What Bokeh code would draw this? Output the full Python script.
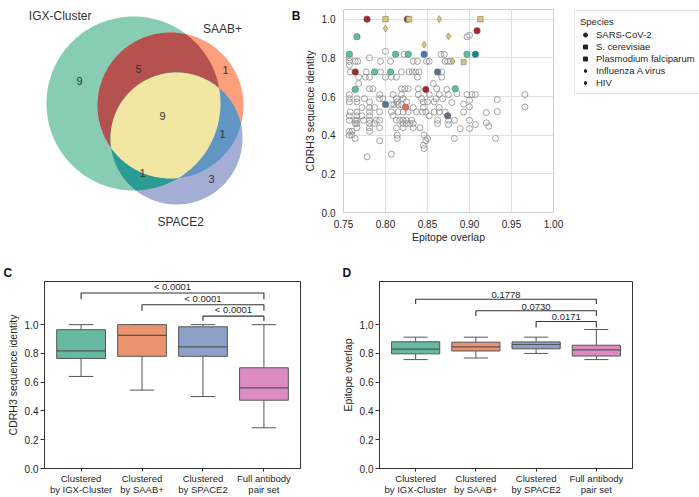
import numpy as np
from bokeh.plotting import figure
from bokeh.models import (Range1d, FixedTicker, PrintfTickFormatter, Legend,
                          LegendItem, ColumnDataSource, Title)
from bokeh.layouts import row, column
from bokeh.embed import file_html
from bokeh.resources import INLINE

FONT = "Liberation Sans"
TXT = "#262626"

# ---------------- Panel A: Venn counts ----------------
venn_set_names = ["IGX-Cluster", "SAAB+", "SPACE2"]
venn_region_names = ["IGX only", "SAAB+ only", "IGX & SAAB+", "SPACE2 only",
                     "IGX & SPACE2", "SAAB+ & SPACE2", "all three"]
venn_counts = [9, 1, 5, 3, 1, 1, 9]

# ---------------- Panel B: scatter ----------------
gray_x = [0.800,
          0.822, 0.866, 0.870,
          0.757, 0.781,
          0.757, 0.764, 0.767, 0.794, 0.806, 0.833, 0.838, 0.849, 0.852, 0.871, 0.874, 0.877,
          0.757,
          0.897, 0.900,
          0.758, 0.777, 0.794, 0.819, 0.828, 0.832, 0.836, 0.840, 0.867,
          0.768, 0.776, 0.781, 0.800, 0.807, 0.813, 0.838, 0.867,
          0.768, 0.857,
          0.781, 0.785, 0.819, 0.823, 0.827, 0.839, 0.861, 0.873,
          0.757, 0.793, 0.809, 0.819, 0.839, 0.852, 0.864, 0.875, 0.885, 0.897, 0.903, 0.907, 0.966,
          0.757, 0.766, 0.775, 0.793, 0.797, 0.813, 0.821, 0.843, 0.860, 0.868, 0.900, 0.933,
          0.757, 0.766, 0.781, 0.814, 0.825, 0.845, 0.850, 0.858, 0.879,
          0.807, 0.810, 0.815, 0.819, 0.893,
          0.772, 0.781, 0.787, 0.833, 0.845, 0.864, 0.900, 0.966,
          0.758, 0.766, 0.781, 0.793, 0.807, 0.815, 0.821, 0.827, 0.837, 0.844, 0.848, 0.858, 0.864,
          0.871, 0.893, 0.920, 0.933,
          0.757, 0.766, 0.772, 0.781, 0.809, 0.852,
          0.757, 0.764, 0.766, 0.774, 0.781, 0.789, 0.793, 0.813, 0.817, 0.821, 0.825, 0.831, 0.862,
          0.875, 0.882, 0.900,
          0.764, 0.766, 0.781, 0.787, 0.821, 0.825, 0.829, 0.833, 0.862, 0.875, 0.907, 0.920,
          0.766, 0.781, 0.793, 0.813, 0.821, 0.833, 0.841, 0.889, 0.900, 0.923,
          0.757, 0.760, 0.781,
          0.757, 0.760, 0.814, 0.846,
          0.764, 0.814, 0.850, 0.882, 0.931,
          0.793, 0.848,
          0.845, 0.846, 0.807, 0.778]
gray_y = [0.833,
          0.818, 0.818, 0.818,
          0.800, 0.800,
          0.782, 0.782, 0.782, 0.782, 0.782, 0.782, 0.782, 0.782, 0.782, 0.782, 0.782, 0.782,
          0.762,
          0.909, 0.917,
          0.727, 0.727, 0.727, 0.727, 0.727, 0.727, 0.727, 0.727, 0.727,
          0.700, 0.700, 0.700, 0.700, 0.700, 0.700, 0.700, 0.700,
          0.667, 0.667,
          0.640, 0.640, 0.640, 0.640, 0.640, 0.640, 0.640, 0.636,
          0.610, 0.610, 0.610, 0.610, 0.610, 0.610, 0.610, 0.610, 0.615, 0.610, 0.610, 0.610, 0.610,
          0.589, 0.589, 0.589, 0.589, 0.589, 0.589, 0.589, 0.589, 0.589, 0.589, 0.580, 0.584,
          0.572, 0.572, 0.572, 0.572, 0.572, 0.572, 0.572, 0.572, 0.569,
          0.558, 0.558, 0.558, 0.558, 0.560,
          0.543, 0.543, 0.543, 0.543, 0.543, 0.543, 0.546, 0.546,
          0.520, 0.520, 0.520, 0.520, 0.520, 0.520, 0.520, 0.520, 0.520, 0.520, 0.520, 0.520, 0.520,
          0.520, 0.520, 0.517, 0.522,
          0.500, 0.500, 0.500, 0.500, 0.500, 0.500,
          0.477, 0.477, 0.477, 0.477, 0.477, 0.477, 0.477, 0.477, 0.477, 0.477, 0.477, 0.477, 0.477,
          0.477, 0.477, 0.477,
          0.460, 0.460, 0.460, 0.460, 0.460, 0.460, 0.460, 0.460, 0.460, 0.455, 0.455, 0.464,
          0.438, 0.438, 0.438, 0.438, 0.438, 0.438, 0.438, 0.434, 0.434, 0.446,
          0.420, 0.420, 0.420,
          0.400, 0.400, 0.400, 0.400,
          0.383, 0.383, 0.383, 0.383, 0.383,
          0.371, 0.371,
          0.348, 0.331, 0.302, 0.288]

hit_x = [0.757, 0.766, 0.764, 0.787, 0.806, 0.812, 0.827, 0.883, 0.897,
         0.778, 0.826, 0.764, 0.848, 0.909,
         0.800, 0.800, 0.828, 0.864, 0.846, 0.875, 0.880, 0.893, 0.913,
         0.846, 0.907,
         0.800, 0.862, 0.874,
         0.824]
hit_y = [0.818, 0.909, 0.636, 0.727, 0.727, 0.818, 0.818, 0.640, 0.818,
         1.000, 1.000, 0.727, 0.636, 0.940,
         1.000, 0.952, 1.000, 1.000, 0.868, 0.911, 0.782, 0.778, 1.000,
         0.818, 0.818,
         0.558, 0.727, 0.500,
         0.545]
hit_group = ["IGX"] * 9 + ["IGX+SAAB"] * 5 + ["ALL"] * 9 + ["SAAB+SPACE2", "IGX+SPACE2"] + \
            ["SPACE2"] * 3 + ["SAAB"]
hit_species = ["SARS-CoV-2"] * 14 + ["S. cerevisiae", "HIV", "S. cerevisiae", "Influenza A virus",
               "HIV", "Influenza A virus", "HIV", "Plasmodium falciparum", "S. cerevisiae"] + \
              ["SARS-CoV-2"] * 6
species_names = ["SARS-CoV-2", "S. cerevisiae", "Plasmodium falciparum", "Influenza A virus", "HIV"]

# ---------------- Panels C / D: box plots ----------------
box_labels = ["Clustered\nby IGX-Cluster", "Clustered\nby SAAB+", "Clustered\nby SPACE2",
              "Full antibody\npair set"]
cdrh3_low = [0.640, 0.545, 0.500, 0.283]
cdrh3_q1 = [0.765, 0.780, 0.780, 0.475]
cdrh3_med = [0.818, 0.925, 0.845, 0.560]
cdrh3_q3 = [0.965, 1.000, 0.985, 0.700]
cdrh3_high = [1.000, 1.000, 1.000, 1.000]
epi_low = [0.757, 0.768, 0.800, 0.757]
epi_q1 = [0.797, 0.817, 0.832, 0.782]
epi_med = [0.830, 0.845, 0.862, 0.824]
epi_q3 = [0.881, 0.878, 0.880, 0.857]
epi_high = [0.913, 0.913, 0.913, 0.966]
bracket_pairs = [(0, 3), (1, 3), (2, 3)]
cdrh3_pvals = ["< 0.0001", "< 0.0001", "< 0.0001"]
cdrh3_br_top = [1.220, 1.138, 1.059]
cdrh3_br_bot = [1.177, 1.097, 1.025]
epi_pvals = ["0.1778", "0.0730", "0.0171"]
epi_br_top = [1.177, 1.097, 1.022]
epi_br_bot = [1.143, 1.061, 0.980]

# ---------------- styles ----------------
REGION_COLORS = ["#86cdb4", "#fb9f7c", "#b5524f", "#a4aed5", "#2a9c94", "#6195c4", "#f1e7a2"]
GROUP_COLORS = {"IGX": "#5cc29e", "SAAB": "#f06a50", "IGX+SAAB": "#a8262b", "SPACE2": "#5f7184",
                "IGX+SPACE2": "#13878a", "SAAB+SPACE2": "#4a78b0", "ALL": "#d9c96a"}
SPECIES_MARKERS = {"SARS-CoV-2": "circle", "S. cerevisiae": "square",
                   "Plasmodium falciparum": "square", "Influenza A virus": "diamond", "HIV": "diamond"}
SPECIES_SIZES = {"SARS-CoV-2": 6.5, "S. cerevisiae": 5.5, "Plasmodium falciparum": 5,
                 "Influenza A virus": 7, "HIV": 7}
LEGEND_SIZES = {"SARS-CoV-2": 5, "S. cerevisiae": 4.5, "Plasmodium falciparum": 3.5,
                "Influenza A virus": 6, "HIV": 6}
BOX_COLORS = ["#66b9a0", "#ea936f", "#8e9fc8", "#dc8bc3"]
EDGE = "#555555"

TOP_H, BOT_H = 245, 252


def style_text_axis(ax, size="10px"):
    ax.major_label_text_font = FONT
    ax.major_label_text_font_size = size
    ax.major_label_text_color = TXT
    ax.axis_label_text_font = FONT
    ax.axis_label_text_font_size = "10.5px"
    ax.axis_label_text_font_style = "normal"
    ax.axis_label_text_color = TXT


def letter_title(p, letter, offset):
    p.title.text = letter
    p.title.align = "left"
    p.title.offset = offset
    p.title.standoff = 3
    p.title.text_font = FONT
    p.title.text_font_size = "12px"
    p.title.text_font_style = "bold"
    p.title.text_color = "#111111"


# ================= Panel A =================
def circle_poly(cx, cy, r, n=240):
    t = np.linspace(0, 2 * np.pi, n, endpoint=False)
    return list(zip(cx + r * np.cos(t), cy + r * np.sin(t)))


def _inside(p, a, b):
    return (b[0] - a[0]) * (p[1] - a[1]) - (b[1] - a[1]) * (p[0] - a[0]) >= 0


def _cross_pt(p, q, a, b):
    x1, y1 = p; x2, y2 = q; x3, y3 = a; x4, y4 = b
    d = (x1 - x2) * (y3 - y4) - (y1 - y2) * (x3 - x4)
    t = ((x1 - x3) * (y3 - y4) - (y1 - y3) * (x3 - x4)) / d
    return (x1 + t * (x2 - x1), y1 + t * (y2 - y1))


def clip(subject, clipper):
    out = subject
    for i in range(len(clipper)):
        a, b = clipper[i - 1], clipper[i]
        inp, out = out, []
        if not inp:
            break
        for j in range(len(inp)):
            p, q = inp[j - 1], inp[j]
            if _inside(q, a, b):
                if not _inside(p, a, b):
                    out.append(_cross_pt(p, q, a, b))
                out.append(q)
            elif _inside(p, a, b):
                out.append(_cross_pt(p, q, a, b))
    return out


# circle layout (pixel space of panel A)
CIRC = [(133, 103, 87), (170, 105, 73), (176, 138, 66)]
cA, cB, cC = [circle_poly(*c) for c in CIRC]
layers = [(cA, REGION_COLORS[0]), (cB, REGION_COLORS[1]), (cC, REGION_COLORS[3]),
          (clip(cA, cB), REGION_COLORS[2]), (clip(cA, cC), REGION_COLORS[4]),
          (clip(cB, cC), REGION_COLORS[5]), (clip(clip(cA, cB), cC), REGION_COLORS[6])]

pA = figure(width=300, height=TOP_H, output_backend="svg", toolbar_location=None, title=None,
            x_range=Range1d(0, 300), y_range=Range1d(212, 9),
            x_axis_location=None, y_axis_location=None,
            min_border_left=0, min_border_right=0, min_border_top=9, min_border_bottom=33)
pA.grid.visible = False
pA.outline_line_color = None
pA.patches(xs=[[p[0] for p in poly] for poly, _ in layers],
           ys=[[p[1] for p in poly] for poly, _ in layers],
           fill_color=[c for _, c in layers], line_color=None)
REGION_LABEL_POS = [(79, 80), (225, 69), (138, 68), (211, 178), (142, 172), (222, 133), (162, 115)]
pA.text(x=[p[0] for p in REGION_LABEL_POS], y=[p[1] for p in REGION_LABEL_POS],
        text=[str(c) for c in venn_counts], text_align="center", text_baseline="middle",
        text_font_size="11px", text_color="#333333", text_font={"value": FONT})
pA.text(x=[91, 222], y=[15, 28], text=venn_set_names[:2], text_align=["right", "center"],
        text_baseline="middle", text_font_size="12px", text_color="#333333",
        text_font={"value": FONT})
# panel letter B sits just left of panel B's axis, inside A's canvas
pA.text(x=[300], y=[15], text=["B"], text_align="right", text_baseline="middle",
        text_font_size="12px", text_font_style="bold", text_color="#111111",
        text_font={"value": FONT})
pA.add_layout(Title(text=venn_set_names[2], align="left", offset=157, standoff=0,
                    text_font=FONT, text_font_size="12px", text_font_style="normal",
                    text_color="#333333"), "below")

# ================= Panel B =================
pB = figure(width=273, height=TOP_H, output_backend="svg", toolbar_location=None, title=None,
            x_range=Range1d(0.75, 1.0), y_range=Range1d(0.0, 1.05),
            min_border_left=41, min_border_right=20, min_border_top=9, min_border_bottom=33)
pB.xaxis.ticker = FixedTicker(ticks=[0.75, 0.80, 0.85, 0.90, 0.95, 1.00])
pB.yaxis.ticker = FixedTicker(ticks=[0.0, 0.2, 0.4, 0.6, 0.8, 1.0])
pB.xaxis.formatter = PrintfTickFormatter(format="%.2f")
pB.yaxis.formatter = PrintfTickFormatter(format="%.1f")
pB.xaxis.axis_label = "Epitope overlap"
pB.yaxis.axis_label = "CDRH3 sequence identity"
for ax in (pB.xaxis[0], pB.yaxis[0]):
    style_text_axis(ax)
    ax.axis_line_color = None
    ax.major_tick_line_color = None
    ax.minor_tick_line_color = None
pB.xaxis.major_label_standoff = 1
pB.xaxis.axis_label_standoff = 0
pB.yaxis.major_label_standoff = 2
pB.yaxis.axis_label_standoff = 3
pB.grid.grid_line_color = "#e0e0e0"
pB.outline_line_color = "#d0d0d0"
pB.scatter(gray_x, gray_y, size=6, fill_alpha=0, line_color="#8c8c8c", line_width=0.8)
srcH = ColumnDataSource(dict(x=hit_x, y=hit_y,
                             color=[GROUP_COLORS[g] for g in hit_group],
                             marker=[SPECIES_MARKERS[s] for s in hit_species],
                             size=[SPECIES_SIZES[s] for s in hit_species]))
pB.scatter("x", "y", source=srcH, marker="marker", size="size", fill_color="color",
           line_color="#666666", line_width=0.5)

# ---- legend lives in its own narrow canvas to the right of panel B ----
pL = figure(width=126, height=TOP_H, output_backend="svg", toolbar_location=None, title=None,
            x_range=Range1d(0, 1), y_range=Range1d(0, 1),
            x_axis_location=None, y_axis_location=None,
            min_border_left=0, min_border_right=0, min_border_top=9, min_border_bottom=33)
pL.grid.visible = False
pL.outline_line_color = None
items = []
for sp in species_names:
    # legend key only: the single point sits outside the visible range
    r = pL.scatter(x=[-5], y=[-5], marker=SPECIES_MARKERS[sp], size=LEGEND_SIZES[sp],
                   fill_color="#222222", line_color="#222222")
    items.append(LegendItem(label=sp, renderers=[r]))
leg = Legend(items=items, location="top_left", title="Species",
             title_text_font=FONT, title_text_font_size="9.5px", title_text_font_style="normal",
             title_text_color=TXT, label_text_font=FONT, label_text_font_size="9.5px",
             label_text_color=TXT, label_height=11, glyph_height=11, glyph_width=10,
             label_standoff=6, spacing=1, padding=5, margin=1, title_standoff=2,
             border_line_color="#cccccc", background_fill_alpha=1)
pL.add_layout(leg, "center")


# ================= Panels C / D =================
def box_panel(width, bl, br, low, q1, med, q3, high, pvals, btop, bbot, ylabel, letter, loff):
    p = figure(width=width, height=BOT_H, output_backend="svg", toolbar_location=None,
               x_range=Range1d(-0.6, 3.6), y_range=Range1d(0.0, 1.3),
               min_border_left=bl, min_border_right=br, min_border_top=36, min_border_bottom=26)
    letter_title(p, letter, loff)
    p.grid.visible = False
    p.outline_line_color = "#333333"
    p.xaxis.ticker = FixedTicker(ticks=[0, 1, 2, 3])
    p.xaxis.major_label_overrides = {i: lab for i, lab in enumerate(box_labels)}
    p.yaxis.ticker = FixedTicker(ticks=[0.0, 0.2, 0.4, 0.6, 0.8, 1.0])
    p.yaxis.formatter = PrintfTickFormatter(format="%.1f")
    p.yaxis.axis_label = ylabel
    for ax in (p.xaxis[0], p.yaxis[0]):
        style_text_axis(ax)
        ax.axis_line_color = "#333333"
        ax.major_tick_line_color = "#333333"
        ax.major_tick_out = 4
        ax.major_tick_in = 0
        ax.minor_tick_line_color = None
        ax.major_label_standoff = 2
    p.xaxis.major_tick_out = 3
    p.xaxis.major_label_standoff = 1
    p.xaxis.major_label_text_font_size = "9.5px"
    p.xaxis.major_label_text_line_height = 1.0
    p.yaxis.axis_label_standoff = 3
    xs = list(range(len(box_labels)))
    p.segment(xs, q3, xs, high, line_color=EDGE, line_width=1)
    p.segment(xs, q1, xs, low, line_color=EDGE, line_width=1)
    p.segment([x - 0.2 for x in xs], high, [x + 0.2 for x in xs], high, line_color=EDGE, line_width=1)
    p.segment([x - 0.2 for x in xs], low, [x + 0.2 for x in xs], low, line_color=EDGE, line_width=1)
    p.vbar(x=xs, width=0.8, bottom=q1, top=q3, fill_color=BOX_COLORS, line_color=EDGE, line_width=1)
    p.segment([x - 0.4 for x in xs], med, [x + 0.4 for x in xs], med, line_color=EDGE, line_width=1.2)
    bx, by = [], []
    for (a, b), t, bt in zip(bracket_pairs, btop, bbot):
        bx.append([a, a, b, b])
        by.append([bt, t, t, bt])
    p.multi_line(bx, by, line_color="#333333", line_width=1.1)
    p.text(x=[(a + b) / 2 for a, b in bracket_pairs], y=btop, text=pvals, text_align="center",
           text_baseline="bottom", y_offset=-1, text_font_size="9.5px", text_color=TXT,
           text_font={"value": FONT})
    return p


pC = box_panel(338, 44, 38, cdrh3_low, cdrh3_q1, cdrh3_med, cdrh3_q3, cdrh3_high,
               cdrh3_pvals, cdrh3_br_top, cdrh3_br_bot, "CDRH3 sequence identity", "C", -41)
pD = box_panel(361, 38, 67, epi_low, epi_q1, epi_med, epi_q3, epi_high,
               epi_pvals, epi_br_top, epi_br_bot, "Epitope overlap", "D", -37)

layout = column(row(pA, pB, pL), row(pC, pD))
open("out.html", "w").write(file_html(layout, INLINE))
